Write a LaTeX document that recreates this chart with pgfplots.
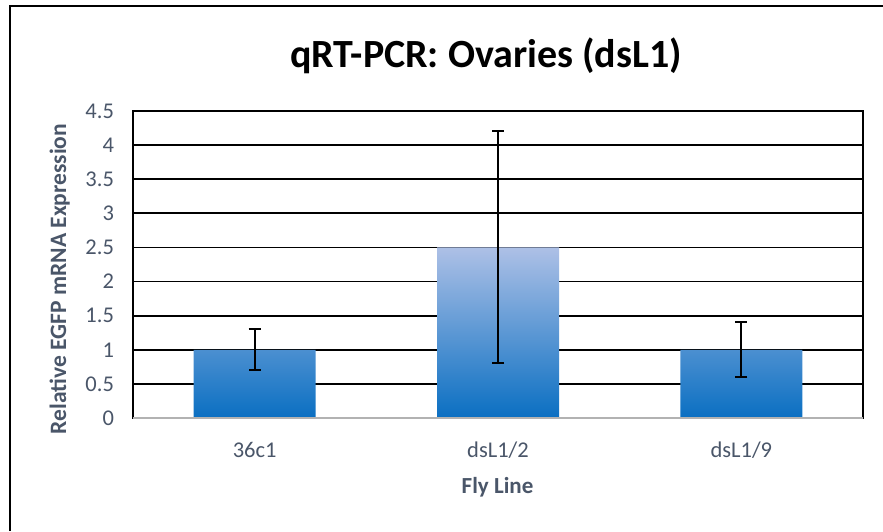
\documentclass[border=0pt]{standalone}
\usepackage{fontspec}
\setmainfont{Carlito}
\usepackage{pgfplots}
\pgfplotsset{compat=1.18}
\definecolor{txt}{HTML}{4A5669}
\definecolor{bartop}{HTML}{ADC0E6}
\definecolor{barbot}{HTML}{0A6FC2}

\begin{document}
\begin{tikzpicture}[x=1pt,y=1pt]
\path[use as bounding box] (0,0) rectangle (883,531);
\draw[line width=2pt] (10,0) -- (10,525) -- (883,525);
\begin{axis}[at={(133pt,113pt)}, anchor=south west, scale only axis,
  width=730pt, height=307pt,
  xmin=-0.5, xmax=2.5, ymin=0, ymax=4.5, ytick distance=0.5,
  xtick=data, xticklabels={36c1,dsL1/2,dsL1/9},
  major tick length=0pt,
  axis line style={black, line width=2pt},
  ymajorgrids, grid style={black, line width=1.8pt},
  ybar, bar width=122pt,
  /pgf/number format/assume math mode=true,
  ticklabel style={font=\fontsize{22.5}{26}\selectfont, text=txt},
  xticklabel style={anchor=base, yshift=-39pt},
  yticklabel style={xshift=-15.5pt}]
\addplot[draw=none, shade, top color=bartop, bottom color=barbot,
  error bars/.cd, y dir=both, y explicit,
  error bar style={black, line width=2pt},
  error mark options={rotate=90, mark size=6pt, line width=2pt, black}]
  coordinates {(0,1) +- (0,0.3) (1,2.5) +- (0,1.7) (2,1) +- (0,0.4)};
\draw[gray!60, line width=2pt] (axis cs:-0.5,0) -- (axis cs:2.5,0);
\end{axis}
\node[anchor=base, font=\fontsize{40}{44}\selectfont\bfseries] at (486,463) {qRT-PCR: Ovaries (dsL1)};
\node[anchor=base, font=\fontsize{23}{26}\selectfont\bfseries, text=txt] at (497.5,38) {Fly Line};
\node[anchor=base, rotate=90, font=\fontsize{23.5}{26}\selectfont\bfseries, text=txt] at (66,252) {Relative EGFP mRNA Expression};
\end{tikzpicture}
\end{document}
